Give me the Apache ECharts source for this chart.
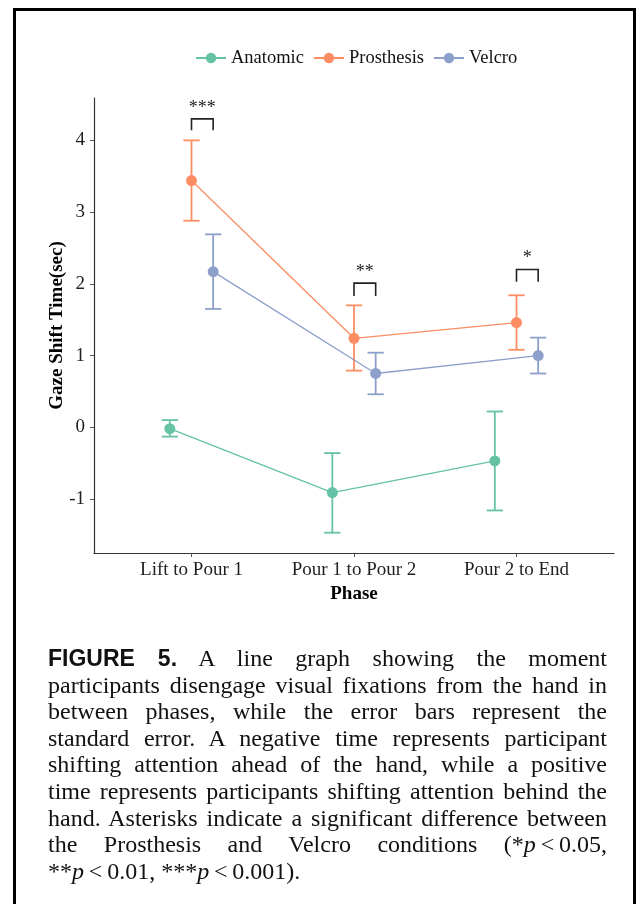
<!DOCTYPE html>
<html>
<head>
<meta charset="utf-8">
<script src="https://cdn.jsdelivr.net/npm/echarts@6/dist/echarts.min.js"></script>
<style>
  html, body { margin: 0; padding: 0; background: #fff; }
  #page { position: relative; width: 642px; height: 904px; overflow: hidden; }
  #chart { position: absolute; left: 0; top: 0; width: 642px; height: 620px; }
  #frame { position: absolute; left: 13px; top: 8px; width: 617px; height: 940px; border: 3px solid #000; border-bottom: none; }
  #caption { position: absolute; left: 48px; top: 645px; width: 559px; font-family: 'Liberation Serif', serif; font-size: 24px; line-height: 26.6px; color: #111; }
  .ln { text-align: justify; text-align-last: justify; }
  .ln.last { text-align-last: left; }
  .fig { font-family: 'Liberation Sans', sans-serif; font-weight: bold; font-size: 23px; }
  .m { display: inline-block; }
</style>
</head>
<body>
<div id="page">
  <div id="chart"></div>
  <div id="frame"></div>
  <div id="caption">
    <div class="ln"><span class="fig">FIGURE 5.</span> A line graph showing the moment</div>
    <div class="ln">participants disengage visual fixations from the hand in</div>
    <div class="ln">between phases, while the error bars represent the</div>
    <div class="ln">standard error. A negative time represents participant</div>
    <div class="ln">shifting attention ahead of the hand, while a positive</div>
    <div class="ln">time represents participants shifting attention behind the</div>
    <div class="ln">hand. Asterisks indicate a significant difference between</div>
    <div class="ln">the Prosthesis and Velcro conditions (<span class="m">*<i>p</i>&thinsp;&lt;&thinsp;0.05,</span></div>
    <div class="ln last"><span class="m">**<i>p</i>&thinsp;&lt;&thinsp;0.01,</span> <span class="m">***<i>p</i>&thinsp;&lt;&thinsp;0.001).</span></div>
  </div>
</div>
<script>
// phases on the x axis, conditions as series
const phases = ['Lift to Pour 1', 'Pour 1 to Pour 2', 'Pour 2 to End'];
const groups = ['Anatomic', 'Prosthesis', 'Velcro'];
const colors = ['#66C2A5', '#FC8D62', '#8DA0CB'];

// means and standard error bounds (sec)
const anatomicMean = [-0.02, -0.91, -0.47];
const anatomicLow = [-0.13, -1.47, -1.16];
const anatomicHigh = [0.10, -0.36, 0.22];
const prosthesisMean = [3.44, 1.24, 1.46];
const prosthesisLow = [2.88, 0.79, 1.08];
const prosthesisHigh = [4.00, 1.70, 1.84];
const velcroMean = [2.17, 0.75, 1.00];
const velcroLow = [1.65, 0.46, 0.75];
const velcroHigh = [2.69, 1.04, 1.25];

// significance brackets between Prosthesis and Velcro
const sigLabels = ['***', '**', '*'];
const sigTop = [4.30, 2.01, 2.20];
const sigBottom = [4.14, 1.83, 2.03];

const yTicks = [-1, 0, 1, 2, 3, 4];
const xTicks = [1, 2, 3];

const means = [anatomicMean, prosthesisMean, velcroMean];
const lows = [anatomicLow, prosthesisLow, velcroLow];
const highs = [anatomicHigh, prosthesisHigh, velcroHigh];

const dodgeWidth = 0.4;
const capHalf = 0.05;
const dodge = (g) => ((g - 1) * dodgeWidth) / 3;

const chart = echarts.init(document.getElementById('chart'));

function renderErrorBar(params, api) {
  const x = api.value(0);
  const top = api.coord([x, api.value(2)]);
  const bot = api.coord([x, api.value(1)]);
  const l = api.coord([x - capHalf, 0])[0];
  const r = api.coord([x + capHalf, 0])[0];
  const style = { stroke: api.visual('color'), lineWidth: 1.8, fill: null };
  return {
    type: 'group',
    children: [
      { type: 'line', shape: { x1: top[0], y1: top[1], x2: bot[0], y2: bot[1] }, style },
      { type: 'line', shape: { x1: l, y1: top[1], x2: r, y2: top[1] }, style },
      { type: 'line', shape: { x1: l, y1: bot[1], x2: r, y2: bot[1] }, style },
    ],
  };
}

function renderBracket(params, api) {
  const a = api.coord([api.value(0), api.value(3)]);
  const b = api.coord([api.value(0), api.value(2)]);
  const c = api.coord([api.value(1), api.value(2)]);
  const d = api.coord([api.value(1), api.value(3)]);
  return {
    type: 'group',
    children: [
      {
        type: 'polyline',
        shape: { points: [a, b, c, d] },
        style: { stroke: '#222', lineWidth: 1.6, fill: null },
      },
      {
        type: 'text',
        x: (b[0] + c[0]) / 2,
        y: b[1] - 2,
        style: {
          text: sigLabels[params.dataIndex],
          fill: '#222',
          font: '18px "Liberation Serif"',
          align: 'center',
          verticalAlign: 'bottom',
        },
      },
    ],
  };
}

const lineSeries = groups.map((name, g) => ({
  name,
  type: 'line',
  data: means[g].map((v, i) => [i + 1 + dodge(g), v]),
  symbol: 'circle',
  symbolSize: 11,
  color: colors[g],
  lineStyle: { width: 1.3 },
  z: 3,
}));

const errorSeries = groups.map((name, g) => ({
  name: name + ' SE',
  type: 'custom',
  renderItem: renderErrorBar,
  itemStyle: { color: colors[g] },
  encode: { x: 0, y: [1, 2] },
  data: means[g].map((v, i) => [i + 1 + dodge(g), lows[g][i], highs[g][i]]),
  z: 2,
}));

const bracketSeries = {
  name: 'sig',
  type: 'custom',
  renderItem: renderBracket,
  encode: { x: [0, 1], y: [2, 3] },
  data: sigLabels.map((s, i) => [i + 1 + dodge(1), i + 1 + dodge(2), sigTop[i], sigBottom[i]]),
  z: 4,
};

const option = {
  animation: false,
  textStyle: { fontFamily: 'Liberation Serif' },
  legend: {
    data: groups,
    left: 195,
    top: 48,
    padding: 0,
    itemWidth: 30,
    itemHeight: 13,
    itemGap: 9,
    textStyle: { fontSize: 18.5, color: '#111', lineHeight: 20, fontFamily: 'Liberation Serif' },
  },
  grid: { left: 94, right: 28, top: 98, bottom: 67, containLabel: false, outerBoundsMode: 'none' },
  xAxis: {
    type: 'value',
    min: 0.4,
    max: 3.6,
    name: 'Phase',
    nameLocation: 'middle',
    nameGap: 32,
    nameMoveOverlap: false,
    nameTextStyle: { fontSize: 19, fontWeight: 'bold', color: '#000', fontFamily: 'Liberation Serif' },
    axisLine: { show: true, onZero: false, lineStyle: { color: '#333', width: 1.2 } },
    axisTick: { show: true, customValues: xTicks, length: 4, lineStyle: { color: '#555' } },
    axisLabel: {
      customValues: xTicks,
      formatter: (v) => phases[Math.round(v) - 1],
      fontSize: 19,
      lineHeight: 19,
      margin: 8,
      color: '#1f1f1f',
      fontFamily: 'Liberation Serif',
    },
    splitLine: { show: false },
  },
  yAxis: {
    type: 'value',
    min: -1.753,
    max: 4.591,
    name: 'Gaze Shift Time(sec)',
    nameLocation: 'middle',
    nameGap: 27,
    nameMoveOverlap: false,
    nameTextStyle: { fontSize: 19, fontWeight: 'bold', color: '#000', fontFamily: 'Liberation Serif' },
    axisLine: { show: true, onZero: false, lineStyle: { color: '#333', width: 1.2 } },
    axisTick: { show: true, customValues: yTicks, length: 4, lineStyle: { color: '#555' } },
    axisLabel: {
      customValues: yTicks,
      formatter: (v) => String(v),
      fontSize: 19,
      margin: 9,
      color: '#1f1f1f',
      fontFamily: 'Liberation Serif',
    },
    splitLine: { show: false },
  },
  series: [...errorSeries, ...lineSeries, bracketSeries],
};

chart.setOption(option);
</script>
</body>
</html>
